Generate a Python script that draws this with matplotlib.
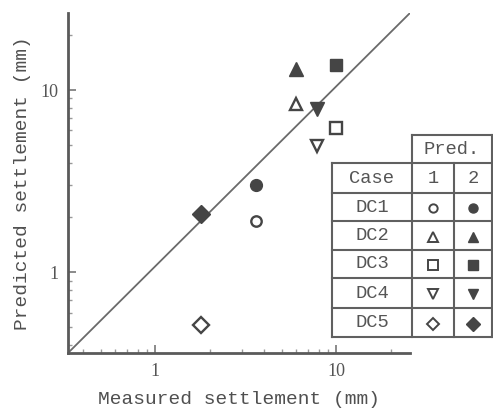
import numpy as np
import matplotlib
matplotlib.use("Agg")
import matplotlib.pyplot as plt
from matplotlib.ticker import LogLocator, FixedLocator, NullFormatter

# values
cases = ['DC1', 'DC2', 'DC3', 'DC4', 'DC5']
measured = [3.6, 6.0, 10.0, 7.8, 1.8]
pred1 = [1.9, 8.4, 6.2, 4.9, 0.51]
pred2 = [3.0, 13.0, 13.8, 7.9, 2.1]
markers = ['o', '^', 's', 'v', 'D']
msizes = [7.5, 8.5, 8, 8.5, 8]

ink = '#454545'
mono = 'Liberation Mono'

fig = plt.figure(figsize=(4.93, 4.12), dpi=100)
W, H = 493, 412
ax = fig.add_axes([68 / W, (H - 353) / H, (410 - 68) / W, (353 - 13) / H])
ax.set_xscale('log')
ax.set_yscale('log')
ax.set_xlim(0.33, 25.5)
ax.set_ylim(0.36, 26.5)

# 1:1 line, corner to corner as in the original drawing
ax.plot([0, 1], [0, 1], transform=ax.transAxes, color='#6a6a6a', lw=1.3, zorder=1)

for i in range(len(cases)):
    ax.plot(measured[i], pred1[i], marker=markers[i], ms=msizes[i], mfc='white',
            mec=ink, mew=1.7, ls='none', zorder=3)
    ax.plot(measured[i], pred2[i], marker=markers[i], ms=msizes[i] + 1, mfc=ink,
            mec=ink, mew=1.0, ls='none', zorder=3)

for s in ['top', 'right']:
    ax.spines[s].set_visible(False)
for s in ['left', 'bottom']:
    ax.spines[s].set_color('#5a5a5a')
    ax.spines[s].set_linewidth(2)

ax.xaxis.set_major_locator(FixedLocator([1, 10]))
ax.yaxis.set_major_locator(FixedLocator([1, 10]))
ax.xaxis.set_minor_locator(LogLocator(base=10, subs=np.arange(2, 10)))
ax.yaxis.set_minor_locator(LogLocator(base=10, subs=np.arange(2, 10)))
ax.xaxis.set_minor_formatter(NullFormatter())
ax.yaxis.set_minor_formatter(NullFormatter())
ax.set_xticklabels(['1', '10'])
ax.set_yticklabels(['1', '10'])
ax.tick_params(which='major', direction='in', length=6, width=1.2, color='#777777',
               labelsize=13, labelcolor='#555555', pad=7)
ax.tick_params(which='minor', direction='in', length=3, width=1.0, color='#999999')
for lab in ax.get_xticklabels() + ax.get_yticklabels():
    lab.set_family('Liberation Serif')

ax.set_xlabel('Measured settlement (mm)', family=mono, fontsize=14, color='#505050',
              labelpad=8)
ax.set_ylabel('Predicted settlement (mm)', family=mono, fontsize=14, color='#505050',
              labelpad=7)

# legend table, drawn in pixel coordinates over the figure
tab = fig.add_axes([0, 0, 1, 1], facecolor='none')
tab.set_xlim(0, W)
tab.set_ylim(H, 0)
tab.axis('off')

x0, x1, x2, x3 = 332, 412, 454, 492
ytop = 135
rows = [163, 193, 221, 250, 278, 308, 337]
lc = '#606060'
tab.fill_between([x0, x3], rows[0], rows[-1], color='white', zorder=1)
tab.fill_between([x1, x3], ytop, rows[0], color='white', zorder=1)
for y in rows:
    tab.plot([x0, x3], [y, y], color=lc, lw=1.5, zorder=2)
tab.plot([x1, x3], [ytop, ytop], color=lc, lw=1.5, zorder=2)
tab.plot([x0, x0], [rows[0], rows[-1]], color=lc, lw=1.5, zorder=2)
tab.plot([x1, x1], [ytop, rows[-1]], color=lc, lw=1.5, zorder=2)
tab.plot([x2, x2], [rows[0], rows[-1]], color=lc, lw=1.5, zorder=2)
tab.plot([x3, x3], [ytop, rows[-1]], color=lc, lw=1.5, zorder=2)

tkw = dict(family=mono, fontsize=13.5, color='#555555', ha='center', va='center', zorder=3)
tab.text((x1 + x3) / 2, (ytop + rows[0]) / 2, 'Pred.', **tkw)
tab.text((x0 + x1) / 2, (rows[0] + rows[1]) / 2, 'Case', **tkw)
tab.text((x1 + x2) / 2, (rows[0] + rows[1]) / 2, '1', **tkw)
tab.text((x2 + x3) / 2, (rows[0] + rows[1]) / 2, '2', **tkw)
for i, c in enumerate(cases):
    yc = (rows[i + 1] + rows[i + 2]) / 2
    tab.text((x0 + x1) / 2, yc, c, **tkw)
    tab.plot((x1 + x2) / 2, yc + 1, marker=markers[i], ms=msizes[i] - 1.5, mfc='white',
             mec=ink, mew=1.4, ls='none', zorder=3)
    tab.plot((x2 + x3) / 2, yc + 1, marker=markers[i], ms=msizes[i] - 1, mfc=ink,
             mec=ink, mew=1.0, ls='none', zorder=3)

fig.savefig('out.png', dpi=100)
